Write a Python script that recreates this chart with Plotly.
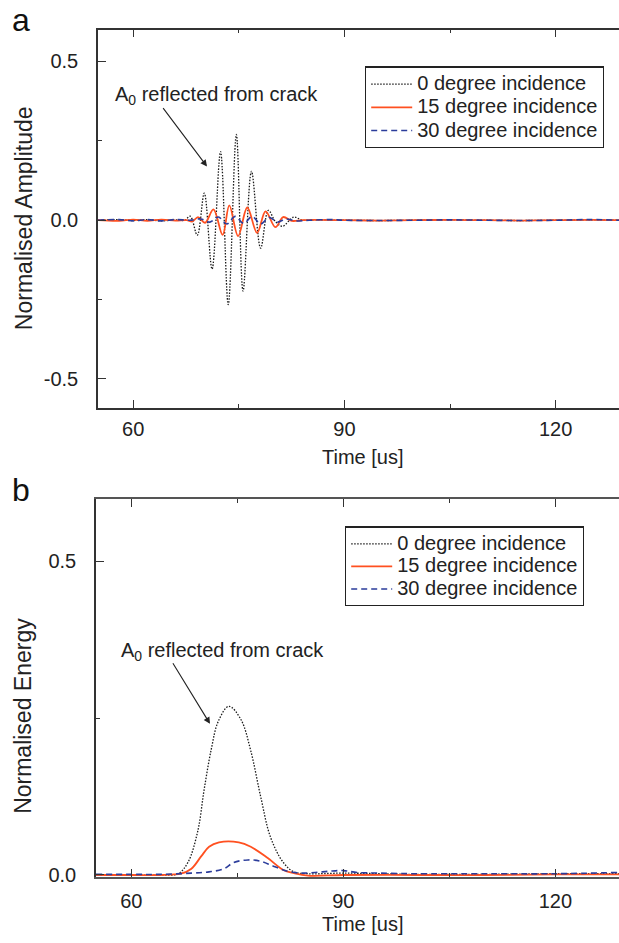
import plotly.graph_objects as go

# ---------------- data ----------------
# (a) normalised amplitude
t_a0 = [55, 58, 60, 62, 64, 66, 67.3, 68.1, 69.1, 70.1, 71.2, 72.4, 73.5, 74.65, 75.6, 76.8,
        78.1, 79.2, 80.2, 81.2, 82.8, 84.0, 86, 90, 95, 100, 105, 110, 115, 120, 125, 129]
a_a0 = [0.0, 0.002, -0.001, 0.002, -0.002, 0.001, 0.0, 0.0125, -0.047, 0.085, -0.154, 0.216, -0.266,
        0.27, -0.223, 0.154, -0.088, 0.031, -0.004, -0.019, 0.01, 0.0, 0.001, 0.0, -0.001, 0.0,
        0.001, 0.0, -0.001, 0.0, 0.001, 0.0]

t_a15 = [55, 58, 60, 62, 64, 66, 67.6, 68.4, 69.2, 70.2, 71.4, 72.7, 73.65, 74.9, 76.2, 77.6,
         78.8, 80.2, 81.3, 82.5, 84, 86, 90, 95, 100, 105, 110, 115, 120, 125, 129]
a_a15 = [0.0, -0.002, 0.002, -0.002, 0.002, -0.001, 0.0, -0.004, 0.01, -0.008, 0.034, -0.046,
         0.047, -0.05, 0.04, -0.04, 0.028, -0.022, 0.01, -0.002, 0.0, 0.001, 0.0, -0.001, 0.0,
         0.001, 0.0, -0.001, 0.0, 0.001, 0.0]

t_a30 = [55, 58, 60, 62, 64, 66, 68, 69.6, 70.9, 72.1, 73.3, 74.5, 75.7, 76.9, 78.1, 79.3,
         80.5, 81.7, 83, 85, 88, 90, 95, 100, 105, 110, 115, 120, 125, 129]
a_a30 = [0.0, 0.002, -0.002, 0.002, -0.002, 0.002, 0.0, 0.004, -0.006, 0.01, -0.012, 0.012,
         -0.01, 0.012, -0.012, 0.009, -0.006, 0.004, -0.002, 0.0, 0.002, 0.0, -0.001, 0.0,
         0.001, 0.0, -0.001, 0.0, 0.002, 0.0]

# (b) normalised energy
t_e0 = [55, 60, 64, 66.6, 68.0, 69.4, 70.3, 71.3, 72.3, 73.8, 75.5, 76.9, 78.3, 79.7, 81.5,
        83.0, 85, 90, 100, 110, 120, 129]
e_e0 = [0.0, 0.0, 0.0, 0.002, 0.02, 0.07, 0.136, 0.2, 0.245, 0.269, 0.248, 0.198, 0.125,
        0.06, 0.02, 0.005, 0.002, 0.003, 0.001, 0.001, 0.002, 0.002]

t_e15 = [55, 60, 64, 67, 68.5, 69.9, 71.0, 72.4, 75.2, 76.9, 79.3, 81.5, 83.0, 85, 90, 100,
         110, 120, 129]
e_e15 = [0.0, 0.0, 0.0, 0.002, 0.01, 0.03, 0.045, 0.052, 0.052, 0.045, 0.027, 0.008, 0.003,
         -0.001, 0.0, 0.0, 0.0, 0.001, 0.001]

t_e30 = [55, 60, 64, 68.5, 71.0, 73.1, 74.5, 76.5, 78.3, 80.1, 82.1, 84, 86, 88, 90, 92, 95,
         100, 110, 120, 129]
e_e30 = [0.001, 0.001, 0.001, 0.003, 0.005, 0.01, 0.02, 0.024, 0.022, 0.014, 0.006, 0.003,
         0.004, 0.006, 0.007, 0.004, 0.003, 0.002, 0.002, 0.002, 0.004]

series_names = ["0 degree incidence", "15 degree incidence", "30 degree incidence"]
series_colors = ["#1a1a1a", "#FF5020", "#2B3C9B"]
series_dash = ["1.5px,1.5px", "solid", "6px,4px"]
series_width = [1.3, 1.8, 1.6]

x_range = [55, 129]
x_tick_vals = [60, 90, 120]
x_tick_text = ["60", "90", "120"]
x_minor_vals = [75, 105]

ya_range = [-0.59, 0.6]
ya_tick_vals = [-0.5, 0.0, 0.5]
ya_tick_text = ["-0.5", "0.0", "0.5"]
ya_minor_vals = [-0.25, 0.25]

yb_range = [-0.004, 0.6]
yb_tick_vals = [0.0, 0.5]
yb_tick_text = ["0.0", "0.5"]
yb_minor_vals = [0.25]

FONT = "Liberation Sans, Arial, Helvetica, sans-serif"
FS = 20
W, H = 619, 943

fig = go.Figure()

amp_sets = [(t_a0, a_a0), (t_a15, a_a15), (t_a30, a_a30)]
en_sets = [(t_e0, e_e0), (t_e15, e_e15), (t_e30, e_e30)]


def leg_label(name):
    return '<span style="font-size:20px">' + name + "</span>"


for i, (tx, vy) in enumerate(amp_sets):
    fig.add_trace(go.Scatter(
        x=tx, y=vy, mode="lines", name=leg_label(series_names[i]),
        line=dict(color=series_colors[i], dash=series_dash[i], width=series_width[i],
                  shape="spline", smoothing=1.0),
        xaxis="x", yaxis="y", legend="legend"))
for i, (tx, vy) in enumerate(en_sets):
    fig.add_trace(go.Scatter(
        x=tx, y=vy, mode="lines", name=leg_label(series_names[i]),
        line=dict(color=series_colors[i], dash=series_dash[i], width=series_width[i],
                  shape="spline", smoothing=1.0),
        xaxis="x2", yaxis="y2", legend="legend2"))


def px_x(p):
    return p / W


def px_y(p):
    return 1 - p / H


axis_common = dict(
    showgrid=False, zeroline=False, showline=True, linecolor="#333", linewidth=1.5,
    ticks="inside", ticklen=8, tickwidth=1.2, tickcolor="#333",
    tickfont=dict(family=FONT, size=FS, color="#222"),
)

xa = dict(axis_common, range=x_range, tickmode="array", tickvals=x_tick_vals,
          ticktext=x_tick_text, mirror="ticks",
          minor=dict(ticks="inside", ticklen=4, tickwidth=1.2, tickcolor="#333",
                     tickvals=x_minor_vals, showgrid=False))

fig.update_layout(
    width=W, height=H, margin=dict(l=0, r=0, t=0, b=0),
    paper_bgcolor="white", plot_bgcolor="white",
    font=dict(family=FONT, size=FS, color="#222"),
    xaxis=dict(xa, domain=[px_x(98), 1], anchor="y", ticklabelstandoff=3),
    yaxis=dict(axis_common, domain=[px_y(411), px_y(30)], anchor="x", range=ya_range,
               tickmode="array", tickvals=ya_tick_vals, ticktext=ya_tick_text,
               ticklabelstandoff=14,
               minor=dict(ticks="inside", ticklen=4, tickwidth=1.2, tickcolor="#333",
                          tickvals=ya_minor_vals, showgrid=False)),
    xaxis2=dict(xa, domain=[px_x(96), 1], anchor="y2", ticklabelstandoff=5,
                linewidth=2, linecolor="#555"),
    yaxis2=dict(axis_common, domain=[px_y(885), px_y(503)], anchor="x2", range=yb_range,
                tickmode="array", tickvals=yb_tick_vals, ticktext=yb_tick_text,
                ticklabelstandoff=14,
                minor=dict(ticks="inside", ticklen=4, tickwidth=1.2, tickcolor="#333",
                           tickvals=yb_minor_vals, showgrid=False)),
    legend=dict(x=px_x(365), y=px_y(67), xanchor="left", yanchor="top",
                bordercolor="#222", borderwidth=1.2, bgcolor="white",
                font=dict(family=FONT, size=15.5, color="#222"), tracegroupgap=0,
                itemwidth=41),
    legend2=dict(x=px_x(345), y=px_y(531), xanchor="left", yanchor="top",
                 bordercolor="#222", borderwidth=1.2, bgcolor="white",
                 font=dict(family=FONT, size=15, color="#222"), tracegroupgap=0,
                 itemwidth=41),
    showlegend=True,
)

annos = []
CM = dict(xref="paper", yref="paper", xanchor="center", yanchor="middle", showarrow=False)
# panel letters
annos.append(dict(CM, text="a", x=px_x(21), y=1, yanchor="top",
                  font=dict(family=FONT, size=32, color="#111")))
annos.append(dict(CM, text="b", x=px_x(21), y=px_y(494),
                  font=dict(family=FONT, size=32, color="#111")))
# axis titles
annos.append(dict(CM, text="Normalised Amplitude", x=px_x(24), y=px_y(220), textangle=-90,
                  font=dict(family=FONT, size=23, color="#222")))
annos.append(dict(CM, text="Normalised Energy", x=px_x(23), y=px_y(722), textangle=-90,
                  font=dict(family=FONT, size=23, color="#222")))
annos.append(dict(CM, text="Time [us]", x=px_x(363), y=px_y(461),
                  font=dict(family=FONT, size=FS, color="#222")))
annos.append(dict(CM, text="Time [us]", x=px_x(363), y=px_y(932),
                  font=dict(family=FONT, size=FS, color="#222")))
# callouts
annos.append(dict(CM, text="A<sub>0</sub> reflected from crack", x=px_x(216), y=px_y(96),
                  font=dict(family=FONT, size=FS, color="#222")))
annos.append(dict(text="", x=px_x(207), y=px_y(168), xref="paper", yref="paper",
                  ax=162 - 207, ay=108 - 168, axref="pixel", ayref="pixel",
                  showarrow=True, arrowhead=2, arrowsize=1.2, arrowwidth=1.1,
                  arrowcolor="#222"))
annos.append(dict(CM, text="A<sub>0</sub> reflected from crack", x=px_x(222), y=px_y(657),
                  font=dict(family=FONT, size=FS, color="#222")))
annos.append(dict(text="", x=px_x(210), y=px_y(730), xref="paper", yref="paper",
                  ax=172 - 210, ay=668 - 730, axref="pixel", ayref="pixel",
                  showarrow=True, arrowhead=2, arrowsize=1.2, arrowwidth=1.1,
                  arrowcolor="#222"))
fig.update_layout(annotations=annos)

fig.write_html("out.html")
